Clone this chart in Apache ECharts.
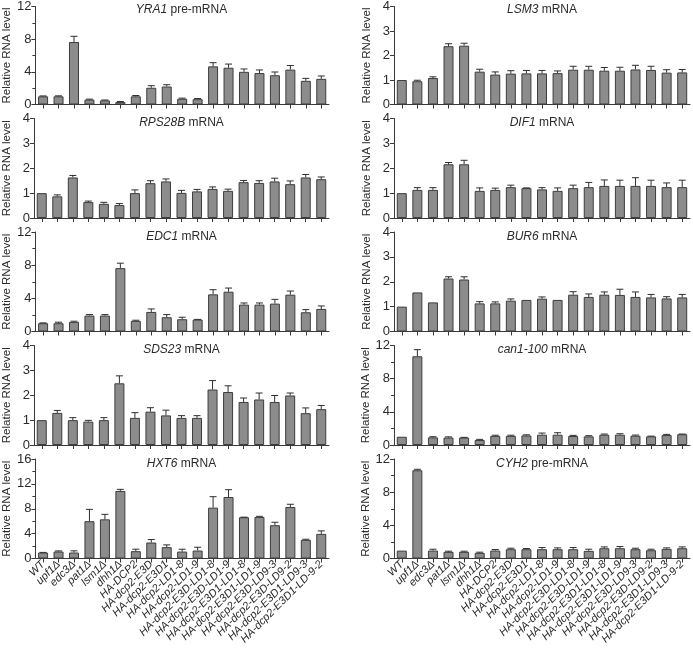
<!DOCTYPE html>
<html>
<head>
<meta charset="utf-8">
<script src="https://cdn.jsdelivr.net/npm/echarts@6/dist/echarts.min.js"></script>
<style>
html,body{margin:0;padding:0;background:#fff;}
#chart{width:693px;height:653px;}
</style>
</head>
<body>
<div id="chart"></div>
<script>
const categories = ['WT','upf1Δ','edc3Δ','pat1Δ','lsm1Δ','dhh1Δ','HA-DCP2','HA-dcp2-E3D','HA-dcp2-E3D1','HA-dcp2-LD1-8','HA-dcp2-LD1-9','HA-dcp2-E3D-LD1-8','HA-dcp2-E3D-LD1-9','HA-dcp2-E3D1-LD1-8','HA-dcp2-E3D1-LD1-9','HA-dcp2-E3D-LD9-3','HA-dcp2-E3D-LD9-2','HA-dcp2-E3D1-LD9-3','HA-dcp2-E3D1-LD-9-2'];

// YRA1 pre-mRNA
const yra1Mean = [1.0,1.0,7.65,0.6,0.5,0.3,1.0,2.05,2.2,0.7,0.65,4.67,4.5,4.0,3.85,3.58,4.27,2.9,3.14];
const yra1Err  = [0.05,0.06,0.7,0.06,0.05,0.06,0.1,0.25,0.22,0.08,0.08,0.45,0.45,0.35,0.38,0.4,0.5,0.3,0.35];
// RPS28B mRNA
const rps28bMean = [1.0,0.87,1.63,0.64,0.57,0.52,1.0,1.4,1.47,1.01,1.07,1.17,1.09,1.44,1.41,1.47,1.36,1.63,1.56];
const rps28bErr  = [0.0,0.06,0.08,0.04,0.06,0.06,0.13,0.1,0.1,0.1,0.08,0.08,0.07,0.07,0.09,0.13,0.13,0.12,0.09];
// EDC1 mRNA
const edc1Mean = [1.0,1.0,1.16,1.92,1.92,7.64,1.28,2.36,1.72,1.48,1.44,4.48,4.8,3.24,3.24,3.36,4.44,2.32,2.72];
const edc1Err  = [0.04,0.12,0.08,0.12,0.12,0.6,0.08,0.36,0.32,0.24,0.02,0.56,0.44,0.2,0.2,0.52,0.44,0.32,0.36];
// SDS23 mRNA
const sds23Mean = [1.0,1.29,1.0,0.94,1.0,2.48,1.09,1.34,1.19,1.09,1.09,2.23,2.13,1.73,1.83,1.73,1.99,1.28,1.44];
const sds23Err  = [0.0,0.1,0.1,0.05,0.1,0.3,0.21,0.16,0.21,0.09,0.09,0.36,0.25,0.16,0.26,0.26,0.1,0.21,0.15];
// HXT6 mRNA
const hxt6Mean = [0.95,1.12,0.96,6.0,6.3,10.86,1.18,2.57,1.82,1.12,1.28,8.18,9.89,6.63,6.68,5.35,8.29,3.0,3.96];
const hxt6Err  = [0.03,0.1,0.27,1.9,0.8,0.26,0.32,0.48,0.37,0.37,0.53,1.76,1.18,0.02,0.1,0.48,0.43,0.1,0.48];
// LSM3 mRNA
const lsm3Mean = [1.0,0.95,1.08,2.38,2.4,1.34,1.22,1.26,1.27,1.27,1.28,1.42,1.42,1.38,1.38,1.43,1.41,1.3,1.31];
const lsm3Err  = [0.0,0.04,0.05,0.1,0.1,0.1,0.11,0.12,0.12,0.12,0.09,0.14,0.14,0.13,0.14,0.17,0.15,0.12,0.12];
// DIF1 mRNA
const dif1Mean = [1.0,1.13,1.13,2.16,2.16,1.09,1.13,1.24,1.2,1.15,1.09,1.2,1.24,1.29,1.29,1.29,1.29,1.24,1.24];
const dif1Err  = [0.0,0.09,0.09,0.07,0.16,0.12,0.07,0.08,0.01,0.07,0.12,0.12,0.19,0.24,0.23,0.33,0.23,0.17,0.28];
// BUR6 mRNA
const bur6Mean = [1.0,1.57,1.17,2.13,2.09,1.13,1.13,1.24,1.27,1.32,1.27,1.48,1.39,1.48,1.47,1.39,1.37,1.33,1.37];
const bur6Err  = [0.0,0.0,0.0,0.07,0.11,0.07,0.06,0.07,0.0,0.07,0.0,0.12,0.12,0.11,0.23,0.2,0.12,0.07,0.12];
// can1-100 mRNA
const can1Mean = [1.0,10.7,0.92,0.9,0.9,0.6,1.1,1.1,1.15,1.24,1.24,1.08,1.04,1.24,1.24,1.12,1.04,1.2,1.3];
const can1Err  = [0.0,0.8,0.08,0.08,0.02,0.08,0.08,0.08,0.08,0.2,0.24,0.08,0.08,0.08,0.12,0.08,0.03,0.08,0.02];
// CYH2 pre-mRNA
const cyh2Mean = [0.95,10.64,0.96,0.8,0.8,0.68,0.96,1.12,1.12,1.12,1.12,1.12,0.92,1.24,1.24,1.12,1.0,1.16,1.24];
const cyh2Err  = [0.0,0.12,0.16,0.08,0.08,0.08,0.12,0.12,0.08,0.2,0.16,0.2,0.2,0.16,0.2,0.12,0.12,0.12,0.16];

const yMaxes = [12,4,12,4,16, 4,4,4,12,12];
const yIntervals = [4,1,4,1,4, 1,1,1,4,4];

const panels = [
  {gene:'YRA1', kind:'pre-mRNA', mean:yra1Mean, err:yra1Err},
  {gene:'RPS28B', kind:'mRNA', mean:rps28bMean, err:rps28bErr},
  {gene:'EDC1', kind:'mRNA', mean:edc1Mean, err:edc1Err},
  {gene:'SDS23', kind:'mRNA', mean:sds23Mean, err:sds23Err},
  {gene:'HXT6', kind:'mRNA', mean:hxt6Mean, err:hxt6Err},
  {gene:'LSM3', kind:'mRNA', mean:lsm3Mean, err:lsm3Err},
  {gene:'DIF1', kind:'mRNA', mean:dif1Mean, err:dif1Err},
  {gene:'BUR6', kind:'mRNA', mean:bur6Mean, err:bur6Err},
  {gene:'can1-100', kind:'mRNA', mean:can1Mean, err:can1Err},
  {gene:'CYH2', kind:'pre-mRNA', mean:cyh2Mean, err:cyh2Err}
];

const FONT = '"Liberation Sans", Arial, Helvetica, sans-serif';
const TXT = '#2b2b2b';
const AX = '#3a3a3a';
const rowTops = [5, 118.5, 232, 345.5, 459];
const rowH = 99.5;
const colLeft = [34, 394];
const colW = [295, 296];

const grids = [], xAxes = [], yAxes = [], series = [], graphics = [];
panels.forEach((p, k) => {
  const col = k < 5 ? 0 : 1;
  const row = k % 5;
  grids.push({left: colLeft[col], top: rowTops[row], width: colW[col], height: rowH});
  const bottom = row === 4;
  xAxes.push({
    type: 'category', gridIndex: k, data: categories,
    axisLine: {lineStyle: {color: AX, width: 1}},
    axisTick: {show: true, alignWithLabel: true, interval: 0, length: 4, lineStyle: {color: AX}},
    axisLabel: {show: bottom, interval: 0, rotate: 45, margin: 4, fontSize: 11, fontStyle: 'italic', fontFamily: FONT, color: TXT}
  });
  const minor = yIntervals[k] === 4;
  yAxes.push({
    type: 'value', gridIndex: k, min: 0, max: yMaxes[k], interval: yIntervals[k],
    name: 'Relative RNA level', nameLocation: 'middle', nameGap: 21,
    nameTextStyle: {fontSize: 11.5, fontFamily: FONT, color: TXT},
    axisLine: {show: true, lineStyle: {color: AX, width: 1}},
    axisTick: {show: true, length: 4, lineStyle: {color: AX}},
    minorTick: {show: minor, splitNumber: 2, length: 3, lineStyle: {color: AX}},
    splitLine: {show: false},
    axisLabel: {fontSize: 13, fontFamily: FONT, color: TXT, margin: 4}
  });
  series.push({
    type: 'bar', xAxisIndex: k, yAxisIndex: k, data: p.mean, barWidth: 10,
    itemStyle: {color: '#8c8c8c', borderColor: '#3d3d3d', borderWidth: 1},
    silent: true, animation: false
  });
  series.push({
    type: 'custom', xAxisIndex: k, yAxisIndex: k, z: 5, silent: true, animation: false,
    data: p.mean.map((m, i) => [i, m, p.err[i]]),
    renderItem: function (params, api) {
      const x = api.value(0), m = api.value(1), e = api.value(2);
      if (!e) return null;
      const p0 = api.coord([x, m]);
      const p1 = api.coord([x, m + e]);
      const half = 3.5;
      const st = {stroke: '#2f2f2f', lineWidth: 1};
      return {type: 'group', children: [
        {type: 'line', shape: {x1: p0[0], y1: p0[1], x2: p1[0], y2: p1[1]}, style: st},
        {type: 'line', shape: {x1: p1[0] - half, y1: p1[1], x2: p1[0] + half, y2: p1[1]}, style: st}
      ]};
    }
  });
  graphics.push({
    type: 'text',
    x: colLeft[col] + colW[col] / 2, y: rowTops[row] + 4.5,
    style: {
      text: '{i|' + p.gene + '} ' + p.kind,
      rich: {i: {fontStyle: 'italic', fontSize: 12, fontFamily: FONT, fill: TXT}},
      fontSize: 12, fontFamily: FONT, fill: TXT,
      align: 'center', verticalAlign: 'middle'
    },
    silent: true
  });
});

const chart = echarts.init(document.getElementById('chart'), null, {renderer: 'canvas'});
chart.setOption({
  animation: false,
  backgroundColor: '#fff',
  grid: grids, xAxis: xAxes, yAxis: yAxes, series: series, graphic: graphics
});
</script>
</body>
</html>
